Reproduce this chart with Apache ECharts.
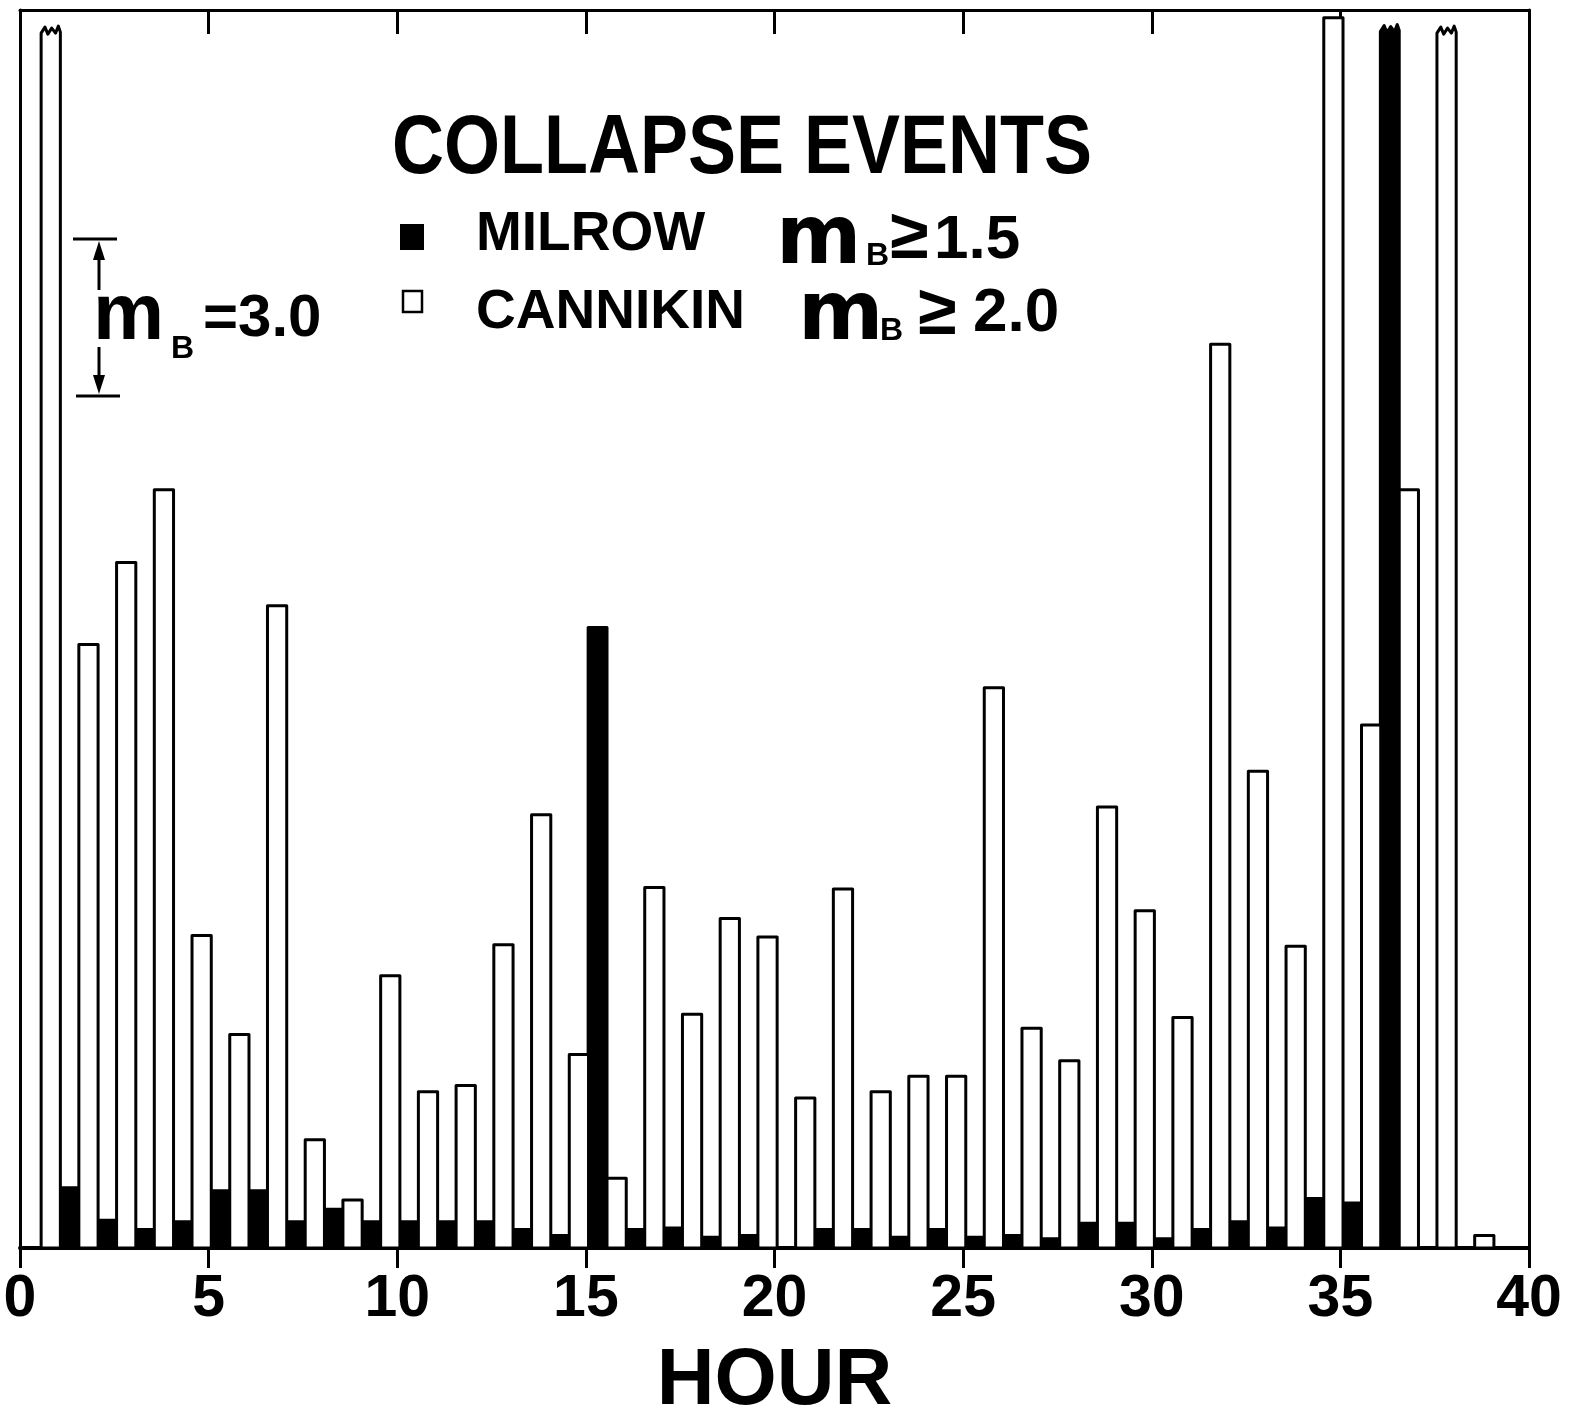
<!DOCTYPE html>
<html>
<head>
<meta charset="utf-8">
<script src="https://cdn.jsdelivr.net/npm/echarts@6/dist/echarts.min.js"></script>
<style>
html, body { margin: 0; background: #fff; }
#chart { width: 1577px; height: 1414px; }
</style>
</head>
<body>
<div id="chart"></div>
<script>
// hour bins 0..39
var hours = [0, 1, 2, 3, 4, 5, 6, 7, 8, 9, 10, 11, 12, 13, 14, 15, 16, 17, 18, 19,
    20, 21, 22, 23, 24, 25, 26, 27, 28, 29, 30, 31, 32, 33, 34, 35, 36, 37, 38, 39];
// bar heights, in units of the m_B = 3.0 scale bar
var milrow = [0, 0.39, 0.18, 0.12, 0.17, 0.37, 0.37, 0.17, 0.25, 0.17,
    0.17, 0.17, 0.17, 0.12, 0.08, 4.01, 0.12, 0.13, 0.07, 0.08,
    0, 0.12, 0.12, 0.07, 0.12, 0.07, 0.08, 0.06, 0.16, 0.16,
    0.06, 0.12, 0.17, 0.13, 0.32, 0.29, 7.88, 0, 0, 0];
var cannikin = [7.87, 3.90, 4.43, 4.90, 2.02, 1.38, 4.15, 0.70, 0.31, 1.76,
    1.01, 1.05, 1.96, 2.80, 1.25, 0.45, 2.33, 1.51, 2.13, 2.01,
    0.97, 2.32, 1.01, 1.11, 1.11, 3.62, 1.42, 1.21, 2.85, 2.18,
    1.49, 5.84, 3.08, 1.95, 7.95, 3.38, 4.90, 7.87, 0.08, 0];
// bars that run off the top of the frame (drawn with a torn top)
var milrowBroken = [36];
var cannikinBroken = [0, 37];
var hourTicks = [0, 5, 10, 15, 20, 25, 30, 35, 40];

var font = 'Liberation Sans';

var makeBar = function (from, to, fill, broken) {
    return function (params, api) {
        var h = api.value(0), v = api.value(1);
        if (!v) {
            return null;
        }
        var a = api.coord([h + from, v]);
        var b = api.coord([h + to, 0]);
        var l = a[0], r = b[0], t = a[1], btm = b[1], w = r - l;
        var pts;
        if (broken.indexOf(h) >= 0) {
            pts = [[l, btm], [l, t + 3], [l + w * 0.2, t - 3], [l + w * 0.35, t + 4], [l + w * 0.55, t - 2],
                [l + w * 0.75, t + 3], [r - 2, t - 4], [r, t + 2], [r, btm]];
        } else {
            pts = [[l, btm], [l, t], [r, t], [r, btm]];
        }
        return {
            type: 'polygon',
            shape: { points: pts },
            style: { fill: fill, stroke: '#000', lineWidth: 3, lineJoin: 'round' }
        };
    };
};

var txt = function (x, y, text, size, family, sy) {
    return {
        type: 'text',
        x: x,
        y: y,
        scaleY: sy || 1,
        style: {
            text: text,
            fill: '#000',
            font: 'bold ' + size + 'px "' + family + '"',
            align: 'left',
            verticalAlign: 'middle'
        }
    };
};
var line = function (x1, y1, x2, y2) {
    return { type: 'line', shape: { x1: x1, y1: y1, x2: x2, y2: y2 }, style: { stroke: '#000', lineWidth: 3 } };
};

var myChart = echarts.init(document.getElementById('chart'));
myChart.setOption({
    animation: false,
    backgroundColor: '#fff',
    grid: { left: 20, right: 48, top: 10, bottom: 166, containLabel: false, outerBoundsMode: 'none' },
    xAxis: [{
        type: 'value',
        position: 'bottom',
        min: hourTicks[0],
        max: hourTicks[hourTicks.length - 1],
        interval: hourTicks[1] - hourTicks[0],
        name: 'HOUR',
        nameLocation: 'middle',
        nameGap: 94,
        nameTextStyle: { fontFamily: font, fontWeight: 'bold', fontSize: 80, color: '#000' },
        axisLine: { show: true, onZero: false, lineStyle: { color: '#000', width: 4 } },
        axisTick: { show: true, inside: false, length: 20, lineStyle: { color: '#000', width: 3 } },
        axisLabel: { margin: 22, fontFamily: font, fontWeight: 'bold', fontSize: 59, color: '#000' },
        splitLine: { show: false }
    }, {
        type: 'value',
        position: 'top',
        min: hourTicks[0],
        max: hourTicks[hourTicks.length - 1],
        interval: hourTicks[1] - hourTicks[0],
        axisLine: { show: true, onZero: false, lineStyle: { color: '#000', width: 3 } },
        axisTick: { show: true, inside: true, length: 24, lineStyle: { color: '#000', width: 3 } },
        axisLabel: { show: false },
        splitLine: { show: false }
    }],
    yAxis: [{
        type: 'value',
        min: 0,
        max: 8,
        axisLine: { show: true, onZero: false, lineStyle: { color: '#000', width: 3 } },
        axisTick: { show: false },
        axisLabel: { show: false },
        splitLine: { show: false }
    }, {
        type: 'value',
        position: 'right',
        min: 0,
        max: 8,
        axisLine: { show: true, onZero: false, lineStyle: { color: '#000', width: 3 } },
        axisTick: { show: false },
        axisLabel: { show: false },
        splitLine: { show: false }
    }],
    series: [{
        name: 'MILROW',
        type: 'custom',
        renderItem: makeBar(0.06, 0.56, '#000', milrowBroken),
        encode: { x: 0, y: 1 },
        data: hours.map(function (h, i) { return [h, milrow[i]]; }),
        z: 2
    }, {
        name: 'CANNIKIN',
        type: 'custom',
        renderItem: makeBar(0.56, 1.07, '#fff', cannikinBroken),
        encode: { x: 0, y: 1 },
        data: hours.map(function (h, i) { return [h, cannikin[i]]; }),
        z: 3
    }],
    graphic: [
        txt(392, 150, 'COLLAPSE EVENTS', 72, font, 1.15),
        { type: 'rect', shape: { x: 400, y: 224, width: 24, height: 26 }, style: { fill: '#000' } },
        txt(476, 235, 'MILROW', 55, font),
        txt(776, 242, 'm', 82, 'DejaVu Sans'),
        txt(866, 256, 'B', 32, font),
        txt(890, 239, '≥', 70, font),
        txt(934, 241, '1.5', 62, font),
        { type: 'rect', shape: { x: 403, y: 291, width: 19, height: 21 }, style: { fill: '#fff', stroke: '#000', lineWidth: 2.5 } },
        txt(476, 313, 'CANNIKIN', 55, font),
        txt(798, 318, 'm', 82, 'DejaVu Sans'),
        txt(880, 331, 'B', 32, font),
        txt(918, 315, '≥', 70, font),
        txt(973, 314, '2.0', 62, font),
        // m_B = 3.0 scale bar
        line(73, 239, 117, 239),
        line(99, 250, 99, 290),
        { type: 'polygon', shape: { points: [[99, 241], [93, 260], [105, 260]] }, style: { fill: '#000' } },
        line(76, 396, 120, 396),
        line(99, 347, 99, 386),
        { type: 'polygon', shape: { points: [[99, 394], [93, 375], [105, 375]] }, style: { fill: '#000' } },
        txt(93, 317, 'm', 80, font),
        txt(171, 349, 'B', 32, font),
        txt(203, 319, '=3.0', 60, font)
    ]
});
window.onresize = myChart.resize;
</script>
</body>
</html>
